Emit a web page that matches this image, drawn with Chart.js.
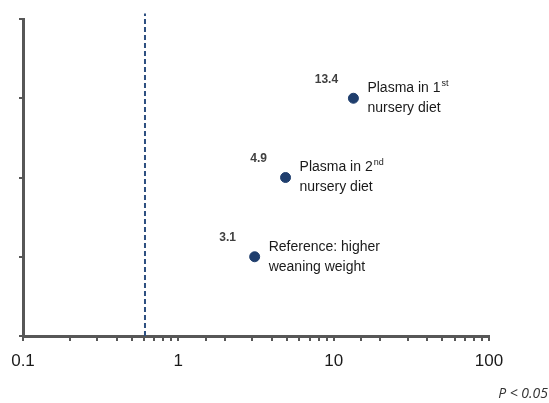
<!DOCTYPE html>
<html>
<head>
<meta charset="utf-8">
<script src="https://cdn.jsdelivr.net/npm/chart.js@4.4.1/dist/chart.umd.min.js"></script>
<style>
  html, body { margin: 0; padding: 0; background: #fff; }
  #wrap { width: 549px; height: 403px; position: relative; }
</style>
</head>
<body>
<div id="wrap"><canvas id="oddsChart"></canvas></div>
<script>
// odds ratios (log x) and row positions
const oddsValues = [13.4, 4.9, 3.1];
const rowPositions = [3, 2, 1];
const valueLabels = ['13.4', '4.9', '3.1'];
const descLines = [
  ['Plasma in 1', 'st', 'nursery diet'],
  ['Plasma in 2', 'nd', 'nursery diet'],
  ['Reference: higher', '', 'weaning weight']
];
const refLineX = 0.61;
const refLineY = [0, 4.07];
const xMajorTicks = [0.1, 1, 10, 100];
const pNote = 'P < 0.05';

const axisColor = '#575757';
const pointColor = '#1f3e6d';

const annotatePlugin = {
  id: 'annotate',
  afterDatasetsDraw: function(chart) {
    const ctx = chart.ctx;
    const xs = chart.scales.x, ys = chart.scales.y;
    ctx.save();
    oddsValues.forEach(function(v, i) {
      const px = xs.getPixelForValue(v);
      const py = ys.getPixelForValue(rowPositions[i]);
      ctx.fillStyle = '#404040';
      ctx.font = 'bold 12px "Liberation Sans", Arial, sans-serif';
      ctx.textAlign = 'center';
      ctx.textBaseline = 'middle';
      ctx.fillText(valueLabels[i], px - 27, py - 19);

      const d = descLines[i];
      ctx.fillStyle = '#1a1a1a';
      ctx.textAlign = 'left';
      ctx.font = '14px "Liberation Sans", Arial, sans-serif';
      ctx.fillText(d[0], px + 14, py - 10);
      if (d[1]) {
        const w = ctx.measureText(d[0]).width;
        ctx.font = '9px "Liberation Sans", Arial, sans-serif';
        ctx.fillText(d[1], px + 14 + w + 1, py - 15);
      }
      ctx.font = '14px "Liberation Sans", Arial, sans-serif';
      ctx.fillText(d[2], px + 14, py + 10);
    });
    ctx.font = 'italic 14px "Open Sans", sans-serif';
    ctx.fillStyle = '#333';
    ctx.textAlign = 'right';
    ctx.fillText(pNote, chart.width - 1, 394);
    ctx.restore();
  }
};

new Chart(document.getElementById('oddsChart'), {
  type: 'scatter',
  data: {
    datasets: [
      {
        label: 'Odds ratio',
        data: oddsValues.map(function(v, i) { return { x: v, y: rowPositions[i] }; }),
        backgroundColor: pointColor,
        borderColor: pointColor,
        pointRadius: 5,
        pointHoverRadius: 5
      },
      {
        label: 'Reference',
        type: 'line',
        data: refLineY.map(function(y) { return { x: refLineX, y: y }; }),
        borderColor: '#2d4f80',
        borderWidth: 2,
        borderDash: [5, 3],
        pointRadius: 0,
        fill: false,
        clip: false
      }
    ]
  },
  options: {
    responsive: true,
    maintainAspectRatio: false,
    animation: false,
    layout: { padding: { top: 19, right: 60, left: 0, bottom: 0 } },
    plugins: { legend: { display: false }, tooltip: { enabled: false } },
    scales: {
      x: {
        type: 'logarithmic',
        min: 0.1,
        max: 100,
        afterFit: function(s) { s.height = 67; },
        border: { color: axisColor, width: 3 },
        grid: { drawOnChartArea: false, drawTicks: true, tickLength: 5, color: axisColor, lineWidth: 2 },
        ticks: {
          autoSkip: false,
          maxRotation: 0,
          padding: 10,
          color: '#1a1a1a',
          font: { family: '"Liberation Sans", Arial, sans-serif', size: 17 },
          callback: function(v) {
            return xMajorTicks.indexOf(Number(v)) >= 0 ? String(Number(v)) : '';
          }
        }
      },
      y: {
        min: 0,
        max: 4,
        afterFit: function(s) { s.width = 23; },
        border: { color: axisColor, width: 3 },
        grid: { drawOnChartArea: false, drawTicks: true, tickLength: 4, color: axisColor, lineWidth: 2 },
        ticks: { stepSize: 1, callback: function() { return ''; } }
      }
    }
  },
  plugins: [annotatePlugin]
});
</script>
</body>
</html>
